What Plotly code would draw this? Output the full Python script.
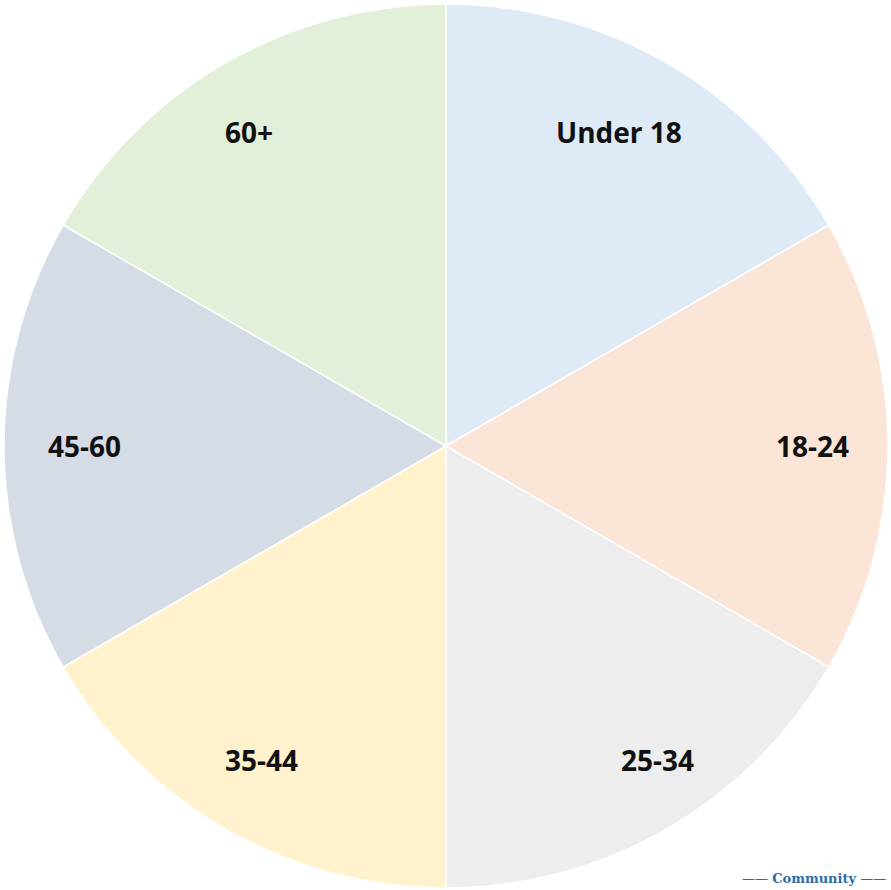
import math
import plotly.graph_objects as go

# ---- data ----
categories = ["Under 18", "18-24", "25-34", "35-44", "45-60", "60+"]
values = [1, 1, 1, 1, 1, 1]
colors = ["#DEEBF7", "#FBE5D6", "#EDEDED", "#FFF2CC", "#D6DCE5", "#E2F0D9"]

# label placement styling (fraction of radius, small pixel nudges)
label_r = 0.82
label_dx_px = [-8, 4, 30, -3, 1, -16]

W, H = 891, 890
ml, mr, mt, mb = 4, 3, 4, 2
plot_w = W - ml - mr

fig = go.Figure(go.Pie(
    labels=categories,
    values=values,
    sort=False,
    direction="clockwise",
    rotation=0,
    marker=dict(colors=colors, line=dict(color="white", width=1.5)),
    textinfo="none",
    hoverinfo="label+percent",
    showlegend=False,
    domain=dict(x=[0, 1], y=[0, 1]),
))

total = sum(values)
annotations = []
cum = 0.0
for i, (lab, v) in enumerate(zip(categories, values)):
    mid = (cum + v / 2) / total * 2 * math.pi
    cum += v
    x = 0.5 + label_r * 0.5 * math.sin(mid) + label_dx_px[i] / plot_w
    y = 0.5 + label_r * 0.5 * math.cos(mid)
    annotations.append(dict(
        x=x, y=y, xref="paper", yref="paper", text="<b>%s</b>" % lab,
        showarrow=False, font=dict(family="Open Sans, Arial", size=28, color="#111111"),
        xanchor="center", yanchor="middle",
    ))

annotations.append(dict(
    x=1.0, y=0.0, xref="paper", yref="paper", xanchor="right", yanchor="bottom",
    text="\u2014\u2014 <b>Community</b> \u2014\u2014", showarrow=False,
    xshift=0, yshift=0,
    font=dict(family="DejaVu Serif, Liberation Serif", size=13, color="#2E6DA4"),
))

fig.update_layout(
    width=W, height=H,
    margin=dict(l=ml, r=mr, t=mt, b=mb),
    paper_bgcolor="white", plot_bgcolor="white",
    annotations=annotations,
)

fig.write_html(
    "out.html",
    config={"displayModeBar": False},
    post_script="document.body.style.margin='0';document.body.style.overflow='hidden';",
)
